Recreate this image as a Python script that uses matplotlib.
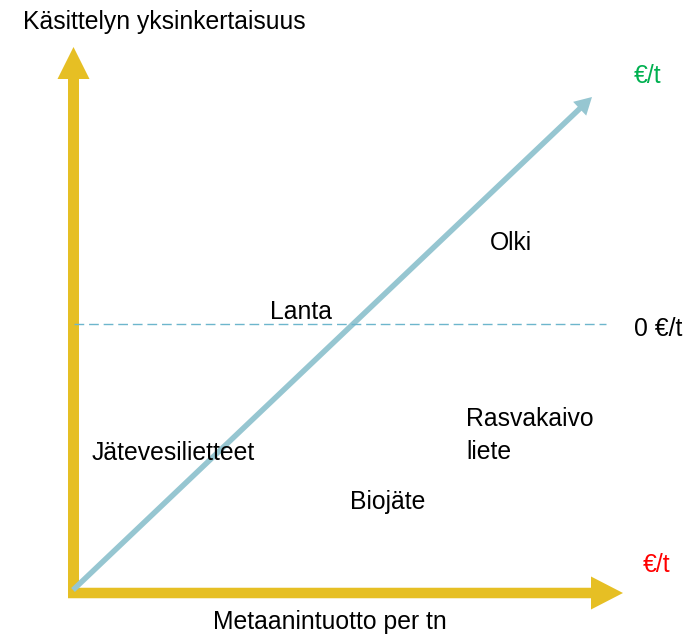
import matplotlib
matplotlib.use("Agg")
import matplotlib.pyplot as plt
from matplotlib.patches import Polygon
import numpy as np

plt.rcParams['font.family'] = ['Liberation Sans', 'DejaVu Sans']

# Diagram content (conceptual chart, pixel-space layout)
axis_y_label = "Käsittelyn yksinkertaisuus"
axis_x_label = "Metaanintuotto per tn"
categories = ["Lanta", "Olki", "Jätevesilietteet", "Rasvakaivo\nliete", "Biojäte"]
cat_x = [270, 490, 92, 466, 350]
cat_y = [319, 250, 460, 459, 509]
zero_label = "0 €/t"
high_label = "€/t"
low_label = "€/t"

YELLOW = "#E6BF24"
BLUE = "#96C6D1"
DASH = "#6DB6CC"

fig = plt.figure(figsize=(6.92, 6.36), dpi=100)
ax = fig.add_axes([0, 0, 1, 1])
ax.set_xlim(0, 692)
ax.set_ylim(636, 0)
ax.axis('off')

def block_arrow(x0, y0, x1, y1, shaft_w, head_w, head_l, color, z=2):
    d = np.array([x1 - x0, y1 - y0], float)
    L = np.hypot(*d)
    u = d / L
    n = np.array([-u[1], u[0]])
    p0 = np.array([x0, y0], float)
    b = p0 + u * (L - head_l)
    tip = np.array([x1, y1], float)
    pts = [p0 + n * shaft_w / 2, b + n * shaft_w / 2, b + n * head_w / 2, tip,
           b - n * head_w / 2, b - n * shaft_w / 2, p0 - n * shaft_w / 2]
    ax.add_patch(Polygon(pts, closed=True, facecolor=color, edgecolor='none', zorder=z))

# Y axis arrow
block_arrow(73.5, 598, 73.5, 47, 11, 32, 32, YELLOW)
# X axis arrow
block_arrow(68, 593, 623, 593, 10.5, 33, 32, YELLOW)
# Zero-cost dashed line
ax.plot([74, 606], [324, 324], color=DASH, lw=1.0, dashes=(7, 3.5), zorder=4)
# Diagonal arrow
block_arrow(73, 590, 592, 97, 5.5, 19, 17, BLUE, z=3)

fs = 17.8
ax.text(23, 29, axis_y_label, fontsize=fs, va='baseline', ha='left', color='black')
ax.text(213, 629, axis_x_label, fontsize=fs, va='baseline', ha='left', color='black')
for t, x, y in zip(categories, cat_x, cat_y):
    ax.text(x, y, t, fontsize=fs, va='baseline', ha='left', color='black', linespacing=1.45)
ax.text(634, 336, zero_label, fontsize=fs, va='baseline', ha='left', color='black')
ax.text(634, 83, high_label, fontsize=fs, va='baseline', ha='left', color='#00B050')
ax.text(643, 572, low_label, fontsize=fs, va='baseline', ha='left', color='#FF0000')

fig.savefig("out.png", dpi=100)
